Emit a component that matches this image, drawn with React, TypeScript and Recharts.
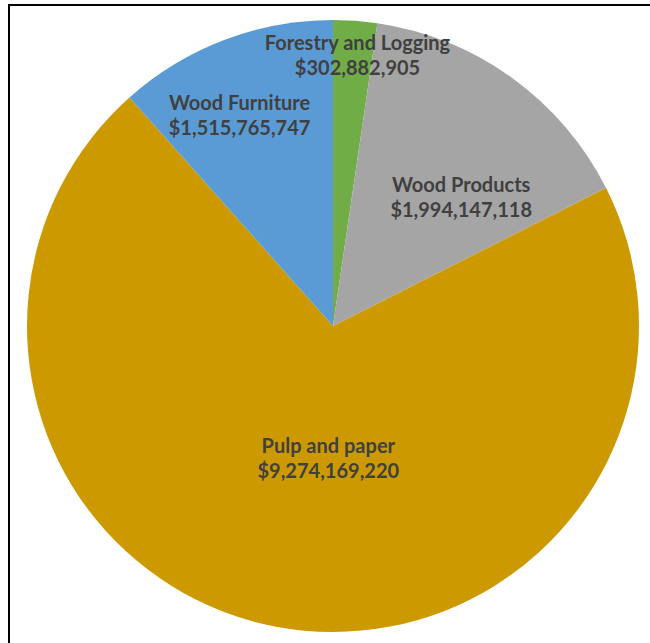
import { PieChart, Pie, Cell } from "recharts";

const sectors = ["Forestry and Logging", "Wood Products", "Pulp and paper", "Wood Furniture"];
const amounts = [302882905, 1994147118, 9274169220, 1515765747];
const colors = ["#70AD47", "#A5A5A5", "#CC9A00", "#5B9BD5"];

// best-fit label placement (fraction of radius, angle nudge in degrees)
const labelRadius = [0.89, 0.595, 0.43, 0.755];
const labelNudge = [1, 9, -8.7, -3];

const data = sectors.map((name, i) => ({ name, value: amounts[i] }));

const fmt = (v: number) => "$" + v.toLocaleString("en-US");

function renderLabel(props: any) {
  const { cx, cy, midAngle, outerRadius, index, name, value } = props;
  const clock = ((90 - midAngle + labelNudge[index]) * Math.PI) / 180;
  const r = outerRadius * labelRadius[index];
  const x = cx + r * Math.sin(clock);
  const y = cy - r * Math.cos(clock);
  return (
    <text
      x={x}
      y={y}
      textAnchor="middle"
      fill="#404040"
      fontFamily="Lato, 'Open Sans', sans-serif"
      fontWeight="bold"
      fontSize={20}
    >
      <tspan x={x} y={y - 12.5} dominantBaseline="central">
        {name}
      </tspan>
      <tspan x={x} y={y + 12.5} dominantBaseline="central">
        {fmt(value)}
      </tspan>
    </text>
  );
}

export default function App() {
  return (
    <div
      style={{
        position: "fixed",
        top: 0,
        left: 0,
        width: 650,
        height: 643,
        background: "#fff",
        overflow: "hidden",
      }}
    >
      <div
        style={{
          position: "absolute",
          left: 8,
          top: 4,
          width: 700,
          height: 700,
          border: "2px solid #000",
        }}
      />
      <div style={{ position: "absolute", left: 0, top: 0 }}>
        <PieChart width={650} height={643} margin={{ top: 0, right: 0, bottom: 0, left: 0 }}>
          <Pie
            data={data}
            dataKey="value"
            nameKey="name"
            cx={333}
            cy={326}
            outerRadius={306}
            startAngle={90}
            endAngle={-270}
            stroke="none"
            label={renderLabel}
            labelLine={false}
            isAnimationActive={false}
          >
            {data.map((d, i) => (
              <Cell key={d.name} fill={colors[i]} />
            ))}
          </Pie>
        </PieChart>
      </div>
    </div>
  );
}
